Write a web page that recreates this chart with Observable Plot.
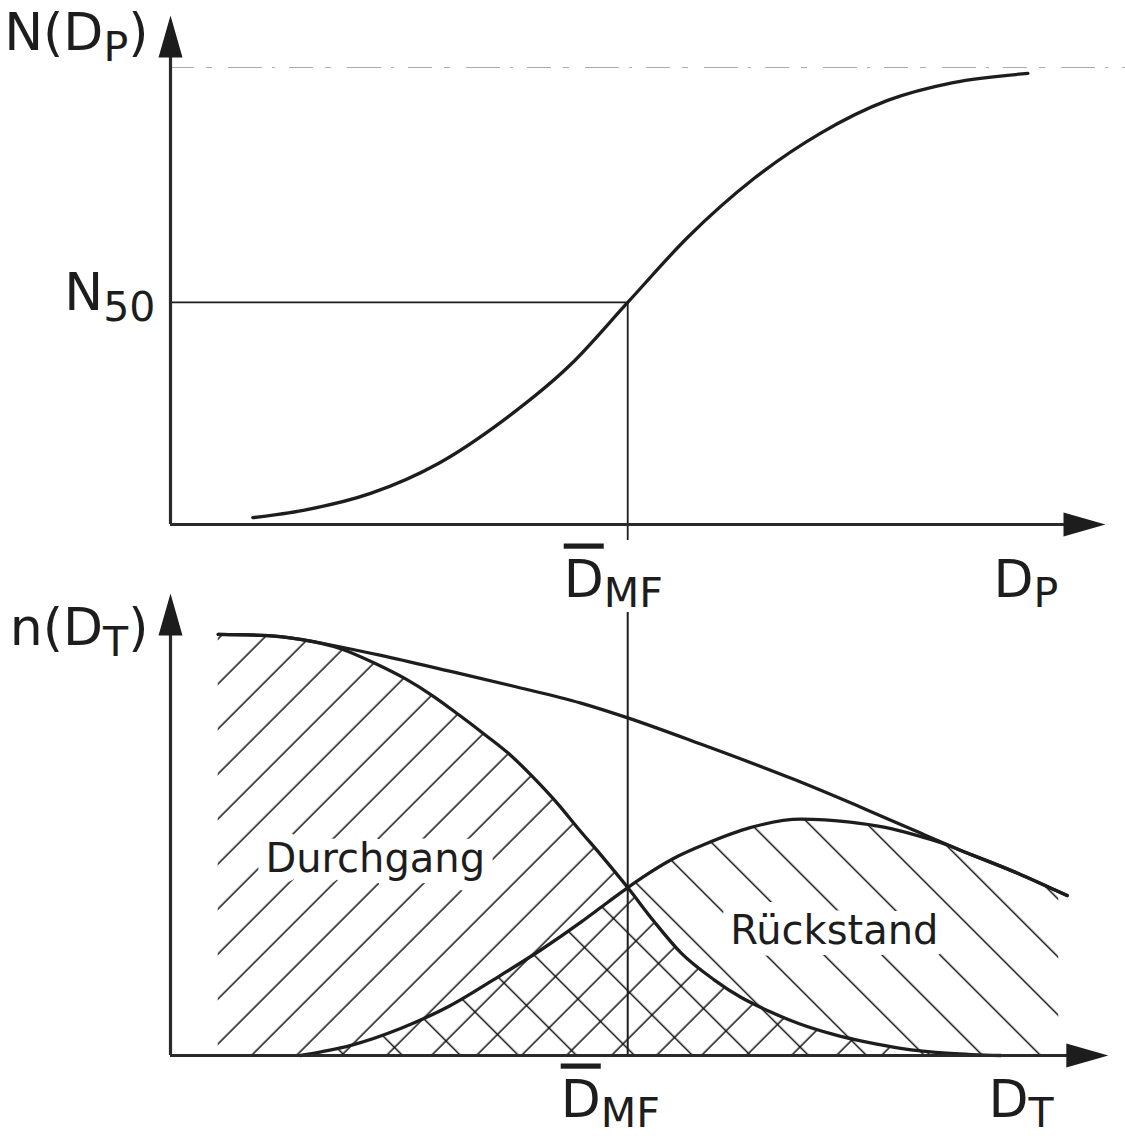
<!DOCTYPE html>
<html>
<head>
<meta charset="utf-8">
<script src="https://cdn.jsdelivr.net/npm/d3@7"></script>
<script src="https://cdn.jsdelivr.net/npm/@observablehq/plot@0.6"></script>
<style>
  body { margin: 0; background: #fff; }
  #chart { width: 1125px; height: 1136px; position: relative; }
  #chart svg { display: block; overflow: visible; }
</style>
</head>
<body>
<div id="chart"></div>
<script>
// Trennkurve N(D_P): Summenkurve über dem Partikeldurchmesser
const sumX = [0.88, 1.42, 2.14, 2.86, 3.56, 4.28, 4.89, 5.53, 6.24, 6.95, 7.67, 8.37, 9.17];
const sumN = [0.015, 0.031, 0.068, 0.133, 0.228, 0.350, 0.486, 0.628, 0.757, 0.856, 0.928, 0.967, 0.987];
const N50 = 0.486;   // Trenngrad 50 %
const DMF = 4.89;    // mittlerer Trenndurchmesser D̄_MF

// Verteilungsdichten n(D_T): Aufgabe, Durchgang, Rückstand
const totalX = [0.51, 1.04, 1.39, 1.82, 2.25, 2.96, 3.67, 4.39, 4.89, 5.67, 6.66, 7.45, 7.99, 8.52, 9.06, 9.59];
const totalN = [0.998, 0.995, 0.986, 0.968, 0.948, 0.912, 0.875, 0.835, 0.800, 0.738, 0.655, 0.582, 0.530, 0.480, 0.432, 0.379];
const durchX = [0.51, 1.04, 1.39, 1.82, 2.19, 2.51, 2.80, 3.08, 3.37, 3.64, 3.88, 4.14, 4.36, 4.60, 4.89, 5.17, 5.46, 5.81, 6.10, 6.39, 6.74, 7.09, 7.46, 7.81, 8.34, 8.88];
const durchN = [0.998, 0.995, 0.986, 0.964, 0.929, 0.893, 0.853, 0.808, 0.759, 0.711, 0.659, 0.597, 0.538, 0.476, 0.398, 0.318, 0.243, 0.180, 0.138, 0.106, 0.074, 0.050, 0.031, 0.017, 0.005, 0.0];
const rueckX = [1.39, 1.93, 2.46, 2.99, 3.53, 3.96, 4.39, 4.67, 4.89, 5.06, 5.38, 5.74, 6.20, 6.74, 7.27, 7.63, 7.99, 8.24, 8.52, 9.06, 9.50, 9.59];
const rueckN = [0, 0.024, 0.064, 0.118, 0.190, 0.250, 0.316, 0.362, 0.398, 0.424, 0.467, 0.503, 0.540, 0.560, 0.553, 0.541, 0.521, 0.504, 0.480, 0.432, 0.388, 0.379];
const rueckHatchEnd = 9.5;

// Beschriftungen ( _{..} = tiefgestellt, ¯{..} = überstrichen )
const labelSum = "N(D_{P})";
const labelN50 = "N_{50}";
const labelDens = "n(D_{T})";
const labelDmf = "¯{D}_{MF}";
const labelDp = "D_{P}";
const labelDt = "D_{T}";
const labelDurch = "Durchgang";
const labelRueck = "Rückstand";

const FONT = "'DejaVu Sans', Verdana, sans-serif";
const INK = "#1d1d1d";
const pts = (xs, ys) => xs.map((x, i) => ({x, y: ys[i]}));

// filled, slender arrow head; tip at the symbol origin, pointing up
const arrowHead = {
  draw(ctx) {
    ctx.moveTo(0, 0);
    ctx.lineTo(12, 42);
    ctx.lineTo(-12, 42);
    ctx.closePath();
  }
};

const axisLabel = (text, x, y, opts) =>
  Plot.text([{x, y, t: text}], {x: "x", y: "y", text: "t", fill: INK, fontSize: 52,
    fontFamily: FONT, lineAnchor: "bottom", ...opts});

const curveOpts = {x: "x", y: "y", curve: "monotone-x", stroke: INK, strokeWidth: 3.3, strokeLinecap: "round"};

const common = {
  width: 1125,
  marginLeft: 170,
  marginRight: 20,
  x: {domain: [0, 10], axis: null},
  y: {domain: [0, 1], axis: null},
  style: {background: "transparent", overflow: "visible", fontFamily: FONT}
};

// ---------- oberes Diagramm: N(D_P) ----------
const upper = Plot.plot({
  ...common,
  height: 560,
  marginTop: 67,
  marginBottom: 36,
  marks: [
    Plot.ruleY([1], {x1: 0, x2: 10.25, stroke: "#ababab", strokeWidth: 1.1, strokeDasharray: "24 12 6 16 34 10 3 14"}),
    Plot.ruleY([N50], {x1: 0, x2: DMF, stroke: INK, strokeWidth: 1.8}),
    Plot.ruleX([DMF], {y1: -0.035, y2: N50, stroke: INK, strokeWidth: 1.8}),
    Plot.line(pts(sumX, sumN), curveOpts),
    Plot.ruleX([0], {y1: 0, y2: 1.09, stroke: "#2a2a2a", strokeWidth: 3.2}),
    Plot.ruleY([0], {x1: 0, x2: 9.8, stroke: "#2a2a2a", strokeWidth: 3.2}),
    Plot.dot([{x: 0, y: 1.114}], {x: "x", y: "y", symbol: arrowHead, fill: INK, stroke: null, r: 5}),
    Plot.dot([{x: 10, y: 0}], {x: "x", y: "y", symbol: arrowHead, rotate: 90, fill: INK, stroke: null, r: 5}),
    axisLabel(labelSum, 0, 1.114, {textAnchor: "end", dx: -22, dy: 35}),
    axisLabel(labelN50, 0, N50, {textAnchor: "end", dx: -15, dy: 8}),
    axisLabel(labelDmf, DMF, 0, {textAnchor: "start", dx: -64, dy: 72}),
    axisLabel(labelDp, 10, 0, {textAnchor: "start", dx: -112, dy: 72})
  ]
});

// ---------- unteres Diagramm: n(D_T) ----------
const lower = Plot.plot({
  ...common,
  height: 576,
  marginTop: 73,
  marginBottom: 81,
  marks: [
    Plot.areaY(pts(durchX, durchN), {x: "x", y: "y", curve: "monotone-x", fill: "url(#hatch-durchgang)"}),
    Plot.areaY(pts(rueckX, rueckN).filter(d => d.x <= rueckHatchEnd), {x: "x", y: "y", curve: "monotone-x", fill: "url(#hatch-rueckstand)"}),
    Plot.text([{x: 2.19, y: 0.436, t: labelDurch}], {x: "x", y: "y", text: "t", fontSize: 40, fontFamily: FONT, fill: INK,
      lineAnchor: "bottom", stroke: "white", strokeWidth: 22, paintOrder: "stroke", strokeLinejoin: "round"}),
    Plot.text([{x: 7.10, y: 0.265, t: labelRueck}], {x: "x", y: "y", text: "t", fontSize: 40, fontFamily: FONT, fill: INK,
      lineAnchor: "bottom", stroke: "white", strokeWidth: 22, paintOrder: "stroke", strokeLinejoin: "round"}),
    Plot.ruleX([DMF], {y1: 0, y2: 1.05, stroke: INK, strokeWidth: 2}),
    Plot.line(pts(totalX, totalN), curveOpts),
    Plot.line(pts(durchX, durchN), curveOpts),
    Plot.line(pts(rueckX, rueckN), curveOpts),
    Plot.ruleX([0], {y1: 0, y2: 1.07, stroke: "#2a2a2a", strokeWidth: 3.2}),
    Plot.ruleY([0], {x1: 0, x2: 9.8, stroke: "#2a2a2a", strokeWidth: 3.2}),
    Plot.dot([{x: 0, y: 1.095}], {x: "x", y: "y", symbol: arrowHead, fill: INK, stroke: null, r: 5}),
    Plot.dot([{x: 10.03, y: 0}], {x: "x", y: "y", symbol: arrowHead, rotate: 90, fill: INK, stroke: null, r: 5}),
    axisLabel(labelDens, 0, 1.095, {textAnchor: "end", dx: -22, dy: 52}),
    axisLabel(labelDmf, DMF, 0, {textAnchor: "start", dx: -67, dy: 61}),
    axisLabel(labelDt, 10, 0, {textAnchor: "start", dx: -117, dy: 61})
  ]
});

// hatch patterns: "/" for Durchgang, "\" for Rückstand (overlap becomes cross-hatched)
const defs = d3.select(lower).insert("defs", ":first-child");
function hatch(id, spacing, angle, offset) {
  const p = defs.append("pattern")
    .attr("id", id)
    .attr("patternUnits", "userSpaceOnUse")
    .attr("width", spacing)
    .attr("height", 20)
    .attr("patternTransform", `rotate(${angle})`);
  p.append("line")
    .attr("x1", offset).attr("x2", offset)
    .attr("y1", -1).attr("y2", 21)
    .attr("stroke", "#111").attr("stroke-width", 1.5);
}
hatch("hatch-durchgang", 45 / Math.SQRT2, 45, 27 / Math.SQRT2);
hatch("hatch-rueckstand", 58 / Math.SQRT2, -45, 23 / Math.SQRT2);

const chart = document.getElementById("chart");
chart.appendChild(upper);
chart.appendChild(lower);

// subscripts and overlines inside the labels
function richText(svg) {
  svg.querySelectorAll("text").forEach(el => {
    const src = el.textContent;
    if (!/[_¯]\{/.test(src)) return;
    const fs = parseFloat(getComputedStyle(el).fontSize);
    const subSize = 0.79 * fs, shift = 0.2 * fs;
    el.textContent = "";
    let cur = 0;
    for (const m of src.matchAll(/([_¯])\{([^}]*)\}|([^_¯]+)/g)) {
      const t = document.createElementNS("http://www.w3.org/2000/svg", "tspan");
      let target = 0;
      if (m[1] === "_") {
        target = shift;
        t.setAttribute("font-size", subSize);
        t.textContent = m[2];
      } else if (m[1] === "¯") {
        t.textContent = m[2];
        t.style.textDecoration = "overline";
      } else {
        t.textContent = m[3];
      }
      if (target !== cur) { t.setAttribute("dy", target - cur); cur = target; }
      el.appendChild(t);
    }
  });
}
richText(upper);
richText(lower);
</script>
</body>
</html>
